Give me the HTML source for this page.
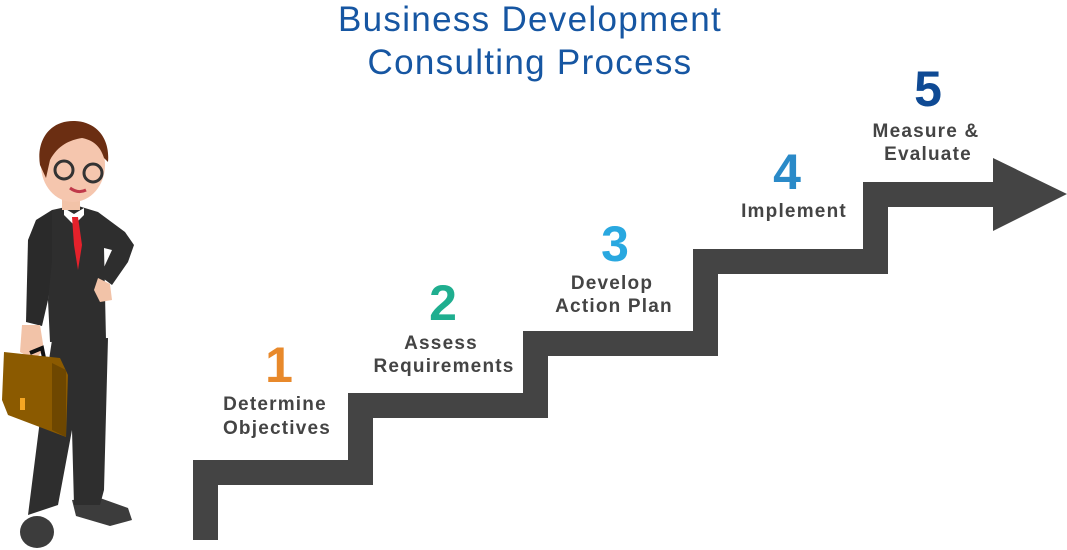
<!DOCTYPE html>
<html><head><meta charset="utf-8"><style>
html,body{margin:0;padding:0;background:#fff;}
body{width:1067px;height:550px;position:relative;overflow:hidden;font-family:"Liberation Sans",sans-serif;}
svg{position:absolute;left:0;top:0;}
</style></head><body>
<svg width="1067" height="550" viewBox="0 0 1067 550" xmlns="http://www.w3.org/2000/svg">
<!-- title -->
<text x="530" y="31" text-anchor="middle" font-family="Liberation Sans, sans-serif" font-size="35" letter-spacing="1.3" fill="#1656a2">Business Development</text>
<text x="530" y="74" text-anchor="middle" font-family="Liberation Sans, sans-serif" font-size="35" letter-spacing="1.3" fill="#1656a2">Consulting Process</text>
<!-- stairs -->
<path d="M193,540 L193,460 L348,460 L348,393 L523,393 L523,331 L693,331 L693,249 L863,249 L863,182 L993,182 L993,158 L1067,194 L993,231 L993,207 L888,207 L888,274 L718,274 L718,356 L548,356 L548,418 L373,418 L373,485 L218,485 L218,540 Z" fill="#444"/>
<!-- numbers & labels -->
<g font-family="Liberation Sans, sans-serif" font-weight="bold" text-anchor="middle" letter-spacing="1.2">
<text x="279" y="382" font-size="50" fill="#e8892b" letter-spacing="0">1</text>
<text x="275" y="410" font-size="19" fill="#444">Determine</text>
<text x="277" y="434" font-size="19" fill="#444">Objectives</text>
<text x="443" y="320" font-size="50" fill="#1fae8f" letter-spacing="0">2</text>
<text x="441" y="349" font-size="19" fill="#444">Assess</text>
<text x="444" y="372" font-size="19" fill="#444">Requirements</text>
<text x="615" y="261" font-size="50" fill="#29a8e0" letter-spacing="0">3</text>
<text x="612" y="289" font-size="19" fill="#444">Develop</text>
<text x="614" y="312" font-size="19" fill="#444">Action Plan</text>
<text x="787" y="189" font-size="50" fill="#2a8ac8" letter-spacing="0">4</text>
<text x="794" y="217" font-size="19" fill="#444">Implement</text>
<text x="928" y="106" font-size="50" fill="#0f4a94" letter-spacing="0">5</text>
<text x="926" y="137" font-size="19" fill="#444">Measure &amp;</text>
<text x="928" y="160" font-size="19" fill="#444">Evaluate</text>
</g>
<!-- man -->
<g>
<!-- shoes -->
<ellipse cx="37" cy="532" rx="17" ry="16" fill="#3c3c3c"/>
<path d="M72,500 L100,498 L128,508 L132,520 L110,526 L76,516 Z" fill="#3c3c3c"/>
<!-- pants -->
<path d="M52,340 L108,338 L104,490 L100,505 L74,505 L72,430 L58,505 L28,515 L40,420 Z" fill="#2e2e2e"/>
<!-- jacket -->
<path d="M52,210 L75,205 L98,212 L125,232 L134,245 L128,262 L112,285 L100,276 L112,250 L104,248 L106,340 L50,342 L48,300 Z" fill="#2e2e2e"/>
<path d="M52,210 L36,220 L28,240 L26,322 L42,326 L48,300 L52,260 Z" fill="#2a2a2a"/>
<!-- shirt/tie -->
<path d="M64,208 L74,214 L84,208 L84,215 L74,225 L64,215 Z" fill="#fff"/>
<path d="M72,217 L78,217 L82,245 L78,270 L74,245 Z" fill="#e5212b"/>
<!-- hands -->
<path d="M22,325 L40,325 L44,350 L34,360 L20,352 Z" fill="#f2c3a8"/>
<path d="M98,278 L110,284 L112,300 L100,302 L94,290 Z" fill="#f2c3a8"/>
<!-- neck -->
<rect x="62" y="196" width="18" height="14" fill="#f2c3a8"/>
<!-- head -->
<ellipse cx="73" cy="165" rx="32" ry="37" fill="#f5c6ae"/>
<path d="M40,165 C36,140 50,120 75,121 C98,122 110,140 108,162 L104,158 C100,145 92,140 82,138 C70,140 58,145 50,160 L46,178 Z" fill="#6b2e12"/>
<circle cx="64" cy="170" r="9" fill="none" stroke="#333" stroke-width="3"/>
<circle cx="93" cy="173" r="9" fill="none" stroke="#333" stroke-width="3"/>
<path d="M70,188 Q78,194 86,190" stroke="#c0394a" stroke-width="3" fill="none"/>
<!-- briefcase -->
<path d="M30,353 L42,348 L44,358" stroke="#111" stroke-width="4" fill="none"/>
<path d="M4,352 L60,358 L68,375 L66,437 L8,415 L2,400 Z" fill="#8b5a00"/>
<path d="M52,363 L66,370 L66,437 L52,430 Z" fill="#6e4700"/>
<rect x="20" y="398" width="5" height="12" fill="#f5a623"/>
</g>
</svg>
</body></html>
